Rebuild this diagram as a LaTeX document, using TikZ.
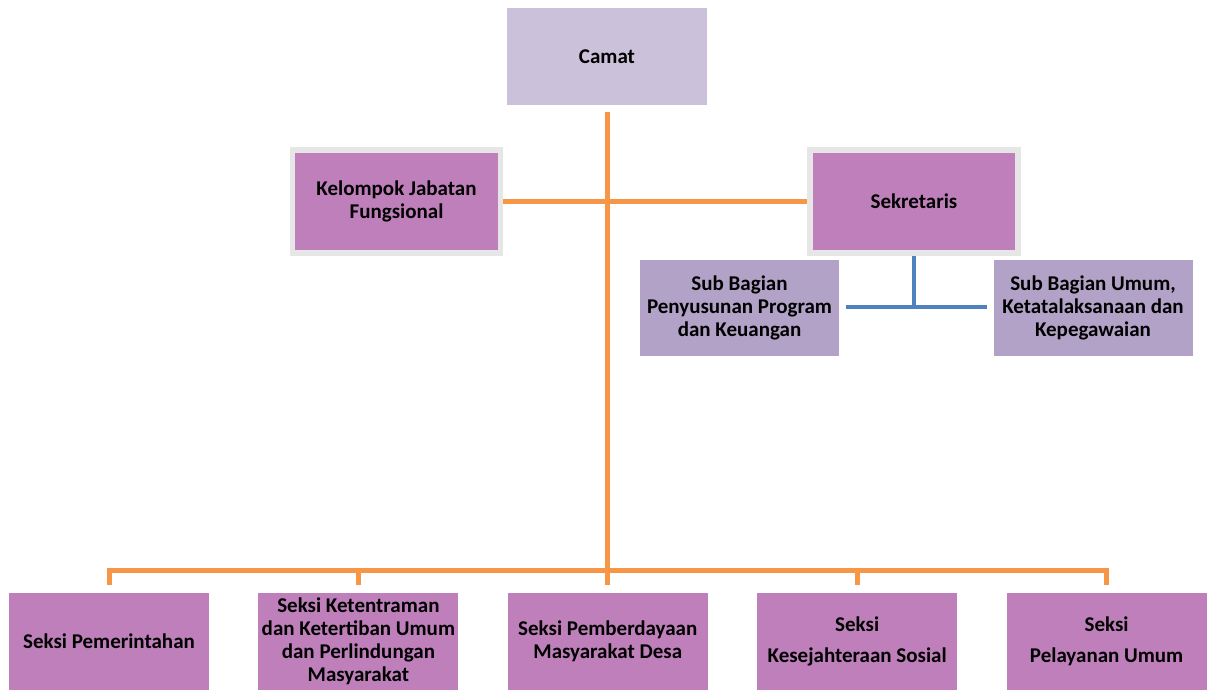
\documentclass[tikz,border=0pt]{standalone}
\usepackage{fontspec}
\setmainfont{Carlito}
\usetikzlibrary{positioning,calc}
\definecolor{CamatFill}{HTML}{CCC1DA}
\definecolor{UnitFill}{HTML}{BF7FBB}
\definecolor{SubFill}{HTML}{B3A2C7}
\definecolor{Trunk}{HTML}{F79646}
\definecolor{Branch}{HTML}{4F81BD}
\definecolor{Rim}{HTML}{E6E6E6}

\begin{document}
\begin{tikzpicture}[x=1pt,y=-1pt,
  orgbox/.style={inner sep=0pt,align=center,font=\bfseries\fontsize{21}{23}\selectfont},
  unitbox/.style={orgbox,fill=UnitFill,minimum width=200pt,minimum height=97pt},
  rimbox/.style={orgbox,fill=UnitFill,draw=Rim,line width=5.5pt,minimum width=208pt,minimum height=103pt},
  subbox/.style={orgbox,fill=SubFill,minimum width=199pt,minimum height=96pt},
  trunk/.style={draw=Trunk,line width=5pt},
  branch/.style={draw=Branch,line width=4.5pt}]
\useasboundingbox (0,0) rectangle (1208,690);
% top
\node[orgbox,fill=CamatFill,minimum width=200pt,minimum height=97pt] (camat) at (607,56.5) {Camat};
\node[rimbox] (kjf) at (396.5,201.5) {Kelompok Jabatan\\Fungsional};
\node[rimbox] (sek) at (914,201.5) {Sekretaris};
% sub bagian
\node[subbox] (sbp) at (739.5,308) {Sub Bagian\\Penyusunan Program\\dan Keuangan};
\node[subbox] (sbu) at (1093,308) {Sub Bagian Umum,\\Ketatalaksanaan dan\\Kepegawaian};
% seksi
\node[unitbox] (s1) at (109,641.5) {Seksi Pemerintahan};
\node[unitbox,right=49pt of s1] (s2) {Seksi Ketentraman\\dan Ketertiban Umum\\dan Perlindungan\\Masyarakat};
\node[unitbox,right=49pt of s2] (s3) {Seksi Pemberdayaan\\Masyarakat Desa};
\node[unitbox,right=49pt of s3] (s4) {Seksi\\[8pt]Kesejahteraan Sosial};
\node[unitbox,right=49pt of s4] (s5) {Seksi\\[8pt]Pelayanan Umum};
% lines
\coordinate (bus) at (camat.south |- 0,570);
\coordinate (sekfork) at (sek.south |- 0,307);
\draw[trunk,shorten <=7pt] (camat.south) -- (bus);
\draw[trunk] (kjf.east) -- (sek.west);
\draw[trunk,line cap=rect] (s1.north |- bus) -- (s5.north |- bus);
\foreach \s in {s1,s2,s3,s4,s5}
  \draw[trunk,shorten >=8pt] (\s.north |- bus) -- (\s.north);
\draw[branch] (sek.south) -- (sekfork);
\draw[branch,shorten <=7pt,shorten >=6pt] (sbp.east |- sekfork) -- (sbu.west |- sekfork);
\end{tikzpicture}
\end{document}
